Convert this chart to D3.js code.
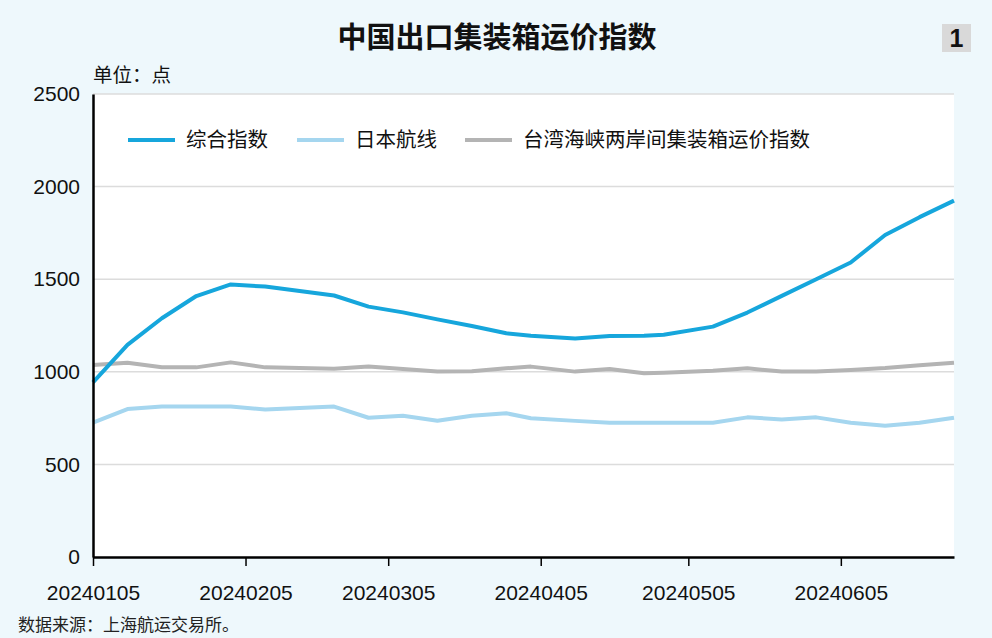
<!DOCTYPE html>
<html>
<head>
<meta charset="utf-8">
<script src="https://cdn.jsdelivr.net/npm/d3@7"></script>
<style>
body { margin: 0; background: #eef8fc; }
svg { display: block; }
</style>
</head>
<body>
<svg id="chart" width="992" height="638"></svg>
<script>
// 数据（周度）
const dates = ["20240105","20240112","20240119","20240126","20240202","20240209","20240223",
    "20240301","20240308","20240315","20240322","20240329","20240403","20240412","20240419",
    "20240426","20240430","20240510","20240517","20240524","20240531","20240607","20240614",
    "20240621","20240628"];
const composite = [943,1145,1289,1409,1472,1460,1412,1352,1321,1283,1247,1208,1195,1180,1193,
    1195,1200,1244,1320,1410,1500,1590,1739,1835,1924];
const japan = [725,799,812,812,812,797,812,752,763,736,763,776,749,735,725,725,725,725,754,
    743,754,725,709,725,752];
const taiwan = [1037,1049,1024,1024,1051,1024,1017,1028,1015,1001,1003,1019,1028,1001,1015,
    992,995,1006,1019,1001,1001,1010,1020,1035,1049];
const seriesNames = ["综合指数", "日本航线", "台湾海峡两岸间集装箱运价指数"];
const tickDates = ["20240105","20240205","20240305","20240405","20240505","20240605"];
const yTicks = [0, 500, 1000, 1500, 2000, 2500];

const parse = d3.timeParse("%Y%m%d");
const colors = ["#16a6dc", "#a5d6ef", "#b4b4b4"];

const svg = d3.select("#chart");
const mLeft = 93, mRight = 954, mTop = 94, mBottom = 557;

const x = d3.scaleTime()
    .domain([parse(dates[0]), parse(dates[dates.length - 1])])
    .range([mLeft, mRight]);
const y = d3.scaleLinear().domain([0, 2500]).range([mBottom, mTop]);

// 白色绘图区
svg.append("rect")
    .attr("x", mLeft).attr("y", mTop)
    .attr("width", mRight - mLeft).attr("height", mBottom - mTop)
    .attr("fill", "#fff");

// 网格线
svg.append("g").selectAll("line")
    .data(yTicks.filter(d => d > 0))
    .enter().append("line")
    .attr("x1", mLeft).attr("x2", mRight)
    .attr("y1", d => y(d)).attr("y2", d => y(d))
    .attr("stroke", "#dcdcdc").attr("stroke-width", 1.5);

// 标题
svg.append("text")
    .attr("x", 497).attr("y", 48)
    .attr("text-anchor", "middle")
    .style("font-family", "Noto Sans CJK SC").style("font-weight", "bold")
    .style("font-size", "29px").attr("fill", "#111")
    .text("中国出口集装箱运价指数");

svg.append("rect")
    .attr("x", 942).attr("y", 24).attr("width", 29).attr("height", 28)
    .attr("fill", "#d9d9d9");
svg.append("text")
    .attr("x", 956.5).attr("y", 47)
    .attr("text-anchor", "middle")
    .style("font-family", "Liberation Sans").style("font-weight", "bold")
    .style("font-size", "25px").attr("fill", "#111")
    .text("1");

svg.append("text")
    .attr("x", 93).attr("y", 82)
    .style("font-family", "Noto Sans CJK SC")
    .style("font-size", "19.5px").attr("fill", "#111")
    .text("单位：点");

// 折线
const line = d3.line()
    .x((d, i) => x(parse(dates[i])))
    .y(d => y(d));

[composite, japan, taiwan].reverse().forEach((s, k) => {
    svg.append("path")
        .datum(s)
        .attr("d", line)
        .attr("fill", "none")
        .attr("stroke", colors[2 - k])
        .attr("stroke-width", 4)
        .attr("stroke-linejoin", "round");
});

// 坐标轴
const yAxis = d3.axisLeft(y).tickValues(yTicks).tickFormat(d3.format("d"))
    .tickSize(0).tickPadding(13);
const gy = svg.append("g").attr("transform", `translate(${mLeft},0)`).call(yAxis);
gy.select(".domain").attr("stroke", "#000").attr("stroke-width", 2.5);
gy.selectAll("text")
    .style("font-family", "Liberation Sans").style("font-size", "21px").attr("fill", "#111");

const xAxis = d3.axisBottom(x)
    .tickValues(tickDates.map(parse))
    .tickFormat(d3.timeFormat("%Y%m%d"))
    .tickSize(9).tickSizeOuter(0).tickPadding(19);
const gx = svg.append("g").attr("transform", `translate(0,${mBottom})`).call(xAxis);
gx.select(".domain").attr("stroke", "#000").attr("stroke-width", 2.5);
gx.selectAll("line").attr("stroke", "#000").attr("stroke-width", 1.5);
gx.selectAll("text")
    .style("font-family", "Liberation Sans").style("font-size", "21px").attr("fill", "#111");

// 图例
const legendX = [128, 297, 465];
const legend = svg.append("g").selectAll("g")
    .data(seriesNames)
    .enter().append("g")
    .attr("transform", (d, i) => `translate(${legendX[i]},140)`);
legend.append("line")
    .attr("x1", 0).attr("x2", 47)
    .attr("stroke", (d, i) => colors[i]).attr("stroke-width", 4);
legend.append("text")
    .attr("x", 58).attr("y", 7)
    .style("font-family", "Noto Sans CJK SC").style("font-size", "20.5px").attr("fill", "#111")
    .text(d => d);

// 来源
svg.append("text")
    .attr("x", 18).attr("y", 631)
    .style("font-family", "Noto Sans CJK SC").style("font-size", "17px").attr("fill", "#222")
    .text("数据来源：上海航运交易所。");
</script>
</body>
</html>
